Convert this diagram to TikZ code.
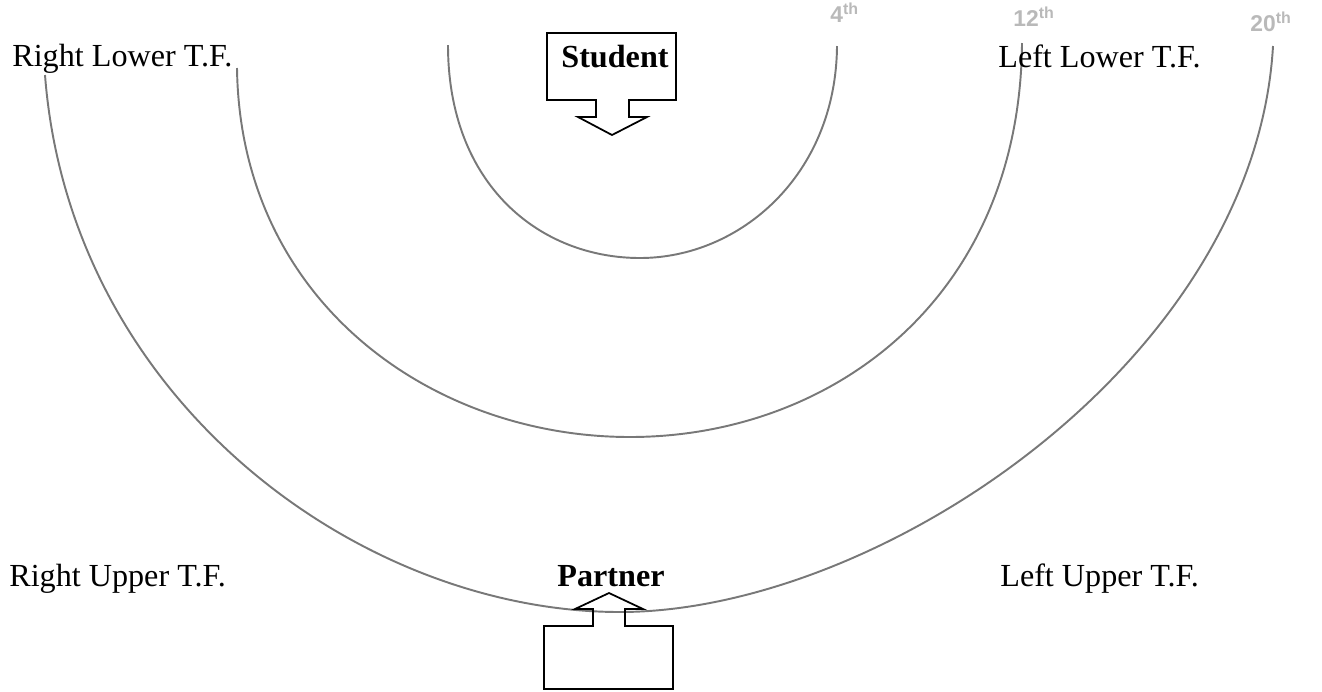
\documentclass[tikz,border=0pt]{standalone}
\usepackage{fontspec}
\setmainfont{Liberation Serif}
\newfontfamily\handfont{Liberation Sans}
\usepackage{tikz}
\usetikzlibrary{positioning}
\definecolor{pencil}{RGB}{120,120,120}
\definecolor{faint}{RGB}{185,185,185}
\tikzset{
  tflabel/.style={inner sep=0pt, font=\fontsize{18.3}{20}\selectfont},
  who/.style={inner sep=0pt, font=\fontsize{18.3}{20}\selectfont\bfseries},
  hand/.style={inner sep=0pt, text=faint, font=\handfont\bfseries\fontsize{13}{14}\selectfont},
  curve/.style={pencil, line width=1.1pt},
  boxarrow/.style={black, line width=1pt, line join=miter}
}
\begin{document}
\begin{tikzpicture}[x=0.02cm, y=-0.02cm]
\useasboundingbox (0,0) rectangle (1322,691);
\draw[curve] (448,45) .. controls (448,185) and (540,258) .. (640,258)
  .. controls (740,258) and (836,175) .. (837,46);
\draw[curve] (237,68) .. controls (240,300) and (430,437) .. (630,437)
  .. controls (830,437) and (1020,300) .. (1022,43);
\draw[curve] (45,75) .. controls (70,400) and (360,612) .. (620,612)
  .. controls (880,612) and (1255,360) .. (1273,46);
\draw[boxarrow] (547,33) -- (676,33) -- (676,100) -- (629,100) -- (629,117)
  -- (647,117) -- (612,135) -- (578,117) -- (596,117) -- (596,100)
  -- (547,100) -- cycle;
\draw[boxarrow] (609,593) -- (643,609) -- (625,609) -- (625,626) -- (673,626)
  -- (673,689) -- (544,689) -- (544,626) -- (593,626) -- (593,609)
  -- (575,609) -- cycle;
\node[who, anchor=base] (student) at (615,67) {Student};
\node[who, anchor=base] (partner) at (611,586) {Partner};
\node[tflabel, anchor=base west] (rlow) at (12,66) {Right Lower T.F.};
\node[tflabel, anchor=base west] (llow) at (998,67) {Left Lower T.F.};
\node[tflabel, anchor=base west] (rup) at (9,586) {Right Upper T.F.};
\node[tflabel, anchor=base west] (lup) at (1000,586) {Left Upper T.F.};
\node[hand, anchor=base west] (fourth) at (830,22) {4\textsuperscript{th}};
\node[hand, anchor=base west] (twelfth) at (1013,26) {12\textsuperscript{th}};
\node[hand, anchor=base west] (twentieth) at (1250,31) {20\textsuperscript{th}};
\end{tikzpicture}
\end{document}
